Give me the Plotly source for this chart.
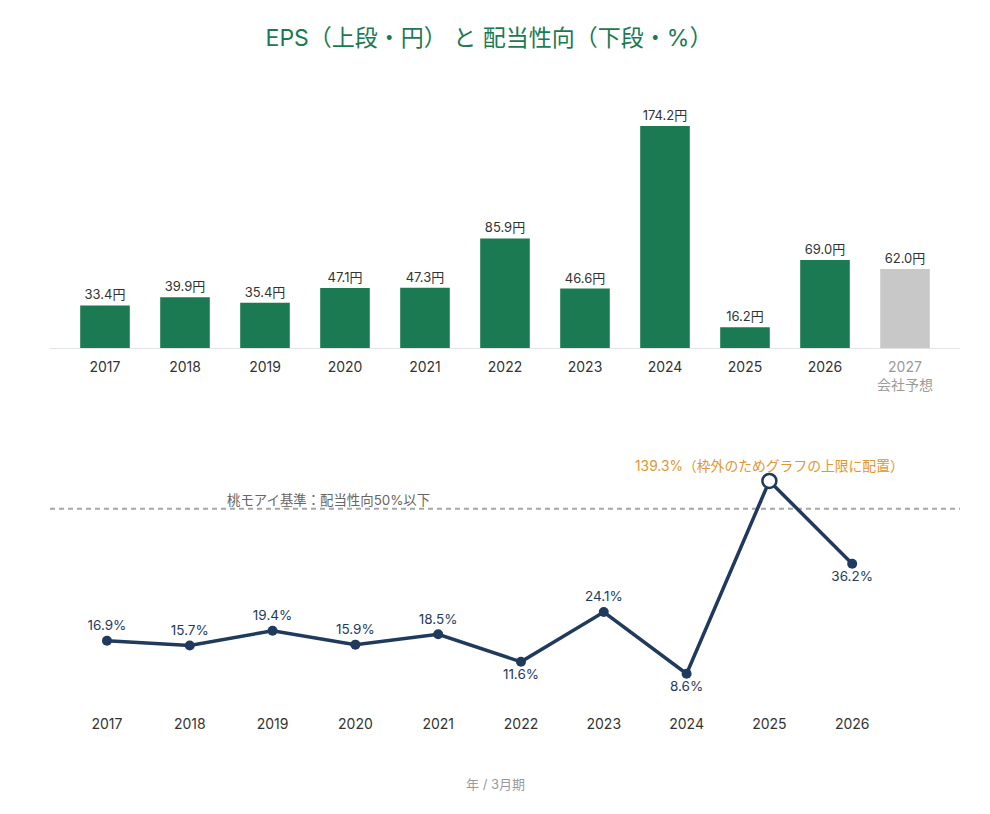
import plotly.graph_objects as go

years_eps = ["2017", "2018", "2019", "2020", "2021", "2022", "2023", "2024", "2025", "2026", "2027"]
eps_tick_labels = ["2017", "2018", "2019", "2020", "2021", "2022", "2023", "2024", "2025", "2026",
                   "<span style='color:#9a9a9a'>2027<br>会社予想</span>"]
eps_values = [33.4, 39.9, 35.4, 47.1, 47.3, 85.9, 46.6, 174.2, 16.2, 69.0, 62.0]
eps_is_forecast = [False] * 10 + [True]

years_payout = ["2017", "2018", "2019", "2020", "2021", "2022", "2023", "2024", "2025", "2026"]
payout_values = [16.9, 15.7, 19.4, 15.9, 18.5, 11.6, 24.1, 8.6, 139.3, 36.2]
payout_cap = 57.0
payout_threshold = 50.0

GREEN = "#1b7a52"
GRAY_BAR = "#c8c8c8"
NAVY = "#1f3a5c"
ORANGE = "#e0962e"
FONT = "Inter, Noto Sans CJK JP"

fig = go.Figure()

idx_eps = list(range(len(years_eps)))
fig.add_trace(go.Bar(
    x=idx_eps, y=eps_values,
    marker=dict(color=[GRAY_BAR if f else GREEN for f in eps_is_forecast], line=dict(width=0)),
    width=0.62,
    text=[f"{v:.1f}円" for v in eps_values],
    textposition="outside",
    textfont=dict(size=13, color="#333333", family=FONT),
    cliponaxis=False,
    xaxis="x", yaxis="y",
    hoverinfo="skip",
))

idx_pay = list(range(len(years_payout)))
plotted = [min(v, payout_cap) for v in payout_values]
over = [v > payout_cap for v in payout_values]
labels = ["" if o else f"{v:.1f}%" for v, o in zip(payout_values, over)]
positions = ["top center", "top center", "top center", "top center", "top center",
             "bottom center", "top center", "bottom center", "top center", "bottom center"]

# threshold dashed line (drawn below the data)
fig.add_shape(type="line", xref="x2 domain", yref="y2", x0=0, x1=1,
              y0=payout_threshold, y1=payout_threshold, layer="below",
              line=dict(color="#a6a6a6", width=2, dash="5px,4px"))

fig.add_trace(go.Scatter(
    x=idx_pay, y=plotted,
    mode="lines+markers+text",
    line=dict(color=NAVY, width=3.5),
    marker=dict(
        size=[14 if o else 10 for o in over],
        color=["white" if o else NAVY for o in over],
        line=dict(color=NAVY, width=[2.5 if o else 0 for o in over]),
        opacity=1,
    ),
    text=labels,
    textposition=positions,
    textfont=dict(size=13.5, color=NAVY, family=FONT),
    cliponaxis=False,
    xaxis="x2", yaxis="y2",
    hoverinfo="skip",
))

fig.add_annotation(xref="x2 domain", yref="y2", x=0.192, y=payout_threshold,
                   text="桃モアイ基準：配当性向50%以下", showarrow=False,
                   xanchor="left", yanchor="bottom", yshift=-1,
                   font=dict(size=13.4, color="#666666", family=FONT))

for i, (v, o) in enumerate(zip(payout_values, over)):
    if o:
        fig.add_annotation(xref="x2", yref="y2", x=i, y=payout_cap,
                           text=f"{v:.1f}%（枠外のためグラフの上限に配置）",
                           showarrow=False, yanchor="bottom", yshift=5,
                           font=dict(size=13.8, color=ORANGE, family=FONT))

fig.add_annotation(xref="paper", yref="paper", x=(495 - 50) / 910, y=1 - 784 / 814,
                   xanchor="center", yanchor="middle",
                   text="年 / 3月期", showarrow=False,
                   font=dict(size=13, color="#9a9a9a", family=FONT))

fig.update_layout(
    width=990, height=814,
    margin=dict(l=50, r=30, t=0, b=0),
    paper_bgcolor="white", plot_bgcolor="white",
    showlegend=False,
    font=dict(family=FONT, color="#333333"),
    title=dict(text="EPS（上段・円） と 配当性向（下段・%）", x=(489 - 50) / 910, xref="paper",
               xanchor="center", y=1 - 38 / 814, yanchor="middle",
               font=dict(size=23, color=GREEN, family=FONT)),
    xaxis=dict(domain=[0, 1], range=[-0.6875, 10.6875],
               tickmode="array", tickvals=idx_eps, ticktext=eps_tick_labels,
               showgrid=False, zeroline=False, showline=True, linecolor="#e2e2e2", linewidth=1,
               ticks="", ticklabelstandoff=6,
               tickfont=dict(size=14, color="#333333", family=FONT), fixedrange=True),
    yaxis=dict(domain=[1 - 348 / 814, 1 - 93 / 814], range=[0, 200],
               visible=False, showgrid=False, zeroline=False, fixedrange=True),
    xaxis2=dict(domain=[0, 1], range=[-0.688, 10.302], anchor="y2",
                tickmode="array", tickvals=idx_pay, ticktext=years_payout,
                showgrid=False, zeroline=False, showline=False,
                ticks="", ticklabelstandoff=6,
                tickfont=dict(size=14, color="#333333", family=FONT), fixedrange=True),
    yaxis2=dict(domain=[1 - 708 / 814, 1 - 469 / 814], range=[0, 60], anchor="x2",
                visible=False, showgrid=False, zeroline=False, fixedrange=True),
)

fig.write_html("out.html")
